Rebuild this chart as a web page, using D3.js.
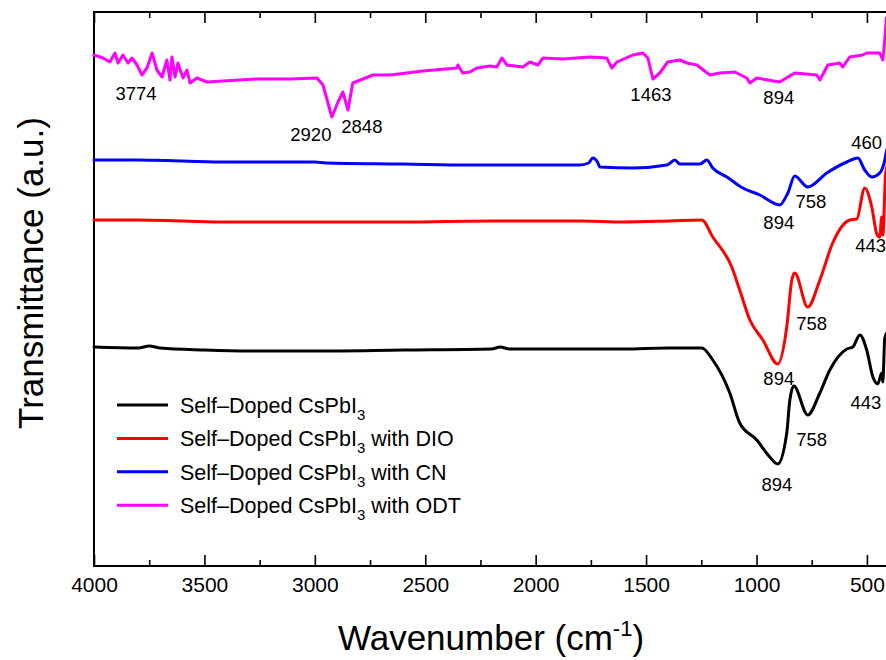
<!DOCTYPE html>
<html>
<head>
<meta charset="utf-8">
<script src="https://cdn.jsdelivr.net/npm/d3@7"></script>
<style>
  html, body { margin: 0; padding: 0; background: #fff; }
  svg { display: block; font-family: "Liberation Sans", Arial, sans-serif; }
</style>
</head>
<body>
<svg id="chart" width="886" height="660"></svg>
<script>
// ---------- DATA ----------
const seriesNames = ["Self–Doped CsPbI", "Self–Doped CsPbI", "Self–Doped CsPbI", "Self–Doped CsPbI"];
const seriesSuffix = ["", " with DIO", " with CN", " with ODT"];
const seriesColors = ["#000000", "#ff0000", "#0000ff", "#ff00ff"];

// [wavenumber (cm-1), transmittance (a.u., offset)]
const pristine = [
  [4000,43.8],[3800,43.6],[3750,44.0],[3700,43.6],[3500,43.2],[3300,43.0],[3000,43.0],[2600,43.2],
  [2200,43.4],[2160,43.8],[2120,43.4],[2000,43.4],[1600,43.4],[1400,43.6],[1248,43.6],[1198,41.2],
  [1121,34.6],[1076,28.6],[999,25.2],[940,21.8],[904,20.4],[863,26.6],[849,33.2],[831,36.0],
  [768,30.2],[713,34.6],[668,39.2],[591,43.4],[564,43.8],[532,46.2],[501,43.2],[473,37.8],
  [451,36.4],[433,38.6],[428,36.8],[419,45.6],[400,47.2]
];
const withDIO = [
  [4000,69.2],[3800,69.2],[3600,69.0],[3400,68.8],[3000,68.8],[2600,68.8],[2200,69.0],[2000,69.0],
  [1800,69.0],[1600,68.8],[1400,69.0],[1248,69.2],[1198,65.8],[1112,59.8],[1076,55.2],[1030,49.2],
  [971,45.2],[904,40.4],[863,47.8],[840,57.2],[827,58.6],[768,51.8],[713,57.2],[655,64.6],
  [578,69.2],[546,69.4],[510,75.6],[478,71.8],[455,66.4],[442,65.8],[433,69.8],[428,66.2],
  [415,78.6],[400,81.2]
];
const withCN = [
  [4000,81.2],[3800,81.2],[3600,81.0],[3400,80.8],[3000,80.8],[2950,80.6],[2600,80.4],[2300,80.2],
  [2000,80.2],[1800,80.2],[1760,80.6],[1741,81.6],[1720,80.8],[1709,79.8],[1560,79.6],[1406,80.2],
  [1370,81.2],[1347,80.4],[1256,80.4],[1225,81.2],[1198,79.6],[1134,77.8],[1062,75.6],[985,74.2],
  [895,72.2],[858,74.6],[827,78.0],[768,75.8],[682,78.6],[591,80.8],[541,81.6],[510,79.2],
  [478,77.8],[442,78.6],[419,81.2],[410,83.2],[400,84.2]
];
const withODT = [
  [4000,102.2],[3959,101.6],[3928,100.8],[3905,102.6],[3891,100.6],[3869,102.2],[3846,100.6],[3828,101.6],
  [3805,100.2],[3783,98.2],[3760,99.6],[3737,102.6],[3715,99.2],[3692,97.8],[3670,101.2],[3656,97.2],
  [3647,101.8],[3633,97.8],[3620,100.6],[3597,97.6],[3579,99.2],[3565,96.6],[3534,97.6],[3488,96.8],
  [3416,97.0],[3262,97.4],[3113,97.4],[2990,97.6],[2963,96.2],[2923,89.8],[2895,92.8],[2873,94.8],
  [2850,91.2],[2828,96.6],[2737,98.2],[2660,98.2],[2583,98.6],[2511,99.0],[2357,99.6],[2352,100.2],
  [2330,98.6],[2298,98.8],[2266,99.6],[2207,100.0],[2176,99.8],[2153,101.6],[2130,100.2],[2058,99.8],
  [2026,100.8],[1990,100.2],[1967,101.6],[1877,101.4],[1755,101.8],[1678,101.6],[1655,99.6],[1632,100.8],
  [1560,102.2],[1515,102.6],[1492,101.6],[1469,97.4],[1438,98.6],[1402,100.8],[1347,101.2],[1315,100.6],
  [1270,100.2],[1211,98.2],[1166,98.6],[1098,98.8],[1044,97.6],[1030,96.6],[999,97.6],[895,96.8],
  [827,98.6],[727,98.2],[713,97.2],[677,100.2],[623,100.6],[609,99.8],[578,101.8],[519,102.2],
  [501,102.6],[442,102.6],[428,101.2],[419,105.2],[412,109.6],[400,109.6]
];

// peak annotations: [text, wavenumber, value]
const peakLabels = [
  ["3774",3810,93.2],["2920",3018,85.0],["2848",2787,86.6],["1463",1478,93.0],["894",899,92.4],
  ["460",501,83.4],["894",899,67.4],["758",754,71.6],
  ["443",483,62.8],["758",750,47.2],["894",899,36.2],
  ["443",505,31.4],["758",750,24.0],["894",908,15.0]
];

const majorTicks = [4000,3500,3000,2500,2000,1500,1000,500];
const minorTicks = [3750,3250,2750,2250,1750,1250,750];
const xTitle = "Wavenumber (cm";
const xTitleSup = "-1";
const yTitle = "Transmittance (a.u.)";

// ---------- LAYOUT ----------
const svg = d3.select("#chart");
const mLeft = 94, mTop = 12, mBottom = 566, mRight = 889;
const x = d3.scaleLinear().domain([4000, 400]).range([mLeft, mRight]);
const y = d3.scaleLinear().domain([0, 110.8]).range([mBottom, mTop]);

// frame
svg.append("rect").attr("x", mLeft).attr("y", mTop).attr("width", mRight - mLeft).attr("height", mBottom - mTop)
  .attr("fill", "none").attr("stroke", "#000").attr("stroke-width", 2);

// axes
function styleAxis(g) {
  g.select(".domain").remove();
  g.selectAll(".tick line").attr("stroke", "#000").attr("stroke-width", 1.6);
}
const bottomMajor = d3.axisBottom(x).tickValues(majorTicks).tickSizeInner(-11).tickSizeOuter(0).tickPadding(11).tickFormat(d3.format("d"));
const gB = svg.append("g").attr("transform", `translate(0,${mBottom})`).call(bottomMajor);
styleAxis(gB);
gB.selectAll("text").attr("font-size", 21).attr("fill", "#000").attr("font-family", "Liberation Sans, Arial, sans-serif");
const gBm = svg.append("g").attr("transform", `translate(0,${mBottom})`)
  .call(d3.axisBottom(x).tickValues(minorTicks).tickSizeInner(-6).tickSizeOuter(0).tickFormat(""));
styleAxis(gBm);
const gT = svg.append("g").attr("transform", `translate(0,${mTop})`)
  .call(d3.axisTop(x).tickValues(majorTicks).tickSizeInner(-11).tickSizeOuter(0).tickFormat(""));
styleAxis(gT);
const gTm = svg.append("g").attr("transform", `translate(0,${mTop})`)
  .call(d3.axisTop(x).tickValues(minorTicks).tickSizeInner(-6).tickSizeOuter(0).tickFormat(""));
styleAxis(gTm);

// lines
const allSeries = [pristine, withDIO, withCN, withODT];
allSeries.forEach((s, i) => {
  const gen = d3.line().x(d => x(d[0])).y(d => y(d[1]))
    .curve(i === 3 ? d3.curveLinear : d3.curveMonotoneX);
  svg.append("path").datum(s).attr("d", gen)
    .attr("fill", "none").attr("stroke", seriesColors[i]).attr("stroke-width", 3)
    .attr("stroke-linejoin", "round").attr("stroke-linecap", "round");
});

// peak labels
svg.append("g").selectAll("text").data(peakLabels).join("text")
  .attr("x", d => x(d[1])).attr("y", d => y(d[2]))
  .attr("text-anchor", "middle").attr("font-size", 18.5).attr("fill", "#000")
  .text(d => d[0]);

// legend
const legend = svg.append("g");
seriesNames.forEach((name, i) => {
  const ly = 405 + i * 33.4;
  legend.append("line").attr("x1", 117).attr("x2", 168).attr("y1", ly).attr("y2", ly)
    .attr("stroke", seriesColors[i]).attr("stroke-width", 3);
  const t = legend.append("text").attr("x", 180).attr("y", ly + 8).attr("font-size", 21.5).attr("fill", "#000");
  t.append("tspan").text(name);
  t.append("tspan").attr("font-size", 15).attr("dy", 7).text("3");
  t.append("tspan").attr("dy", -7).text(seriesSuffix[i]);
});

// axis titles
const xt = svg.append("text").attr("x", 491).attr("y", 650).attr("text-anchor", "middle")
  .attr("font-size", 35).attr("fill", "#000");
xt.append("tspan").text(xTitle);
xt.append("tspan").attr("font-size", 22).attr("dy", -14).text(xTitleSup);
xt.append("tspan").attr("dy", 14).text(")");

svg.append("text").attr("transform", `translate(43,273) rotate(-90)`).attr("text-anchor", "middle")
  .attr("font-size", 35).attr("fill", "#000").text(yTitle);
</script>
</body>
</html>
